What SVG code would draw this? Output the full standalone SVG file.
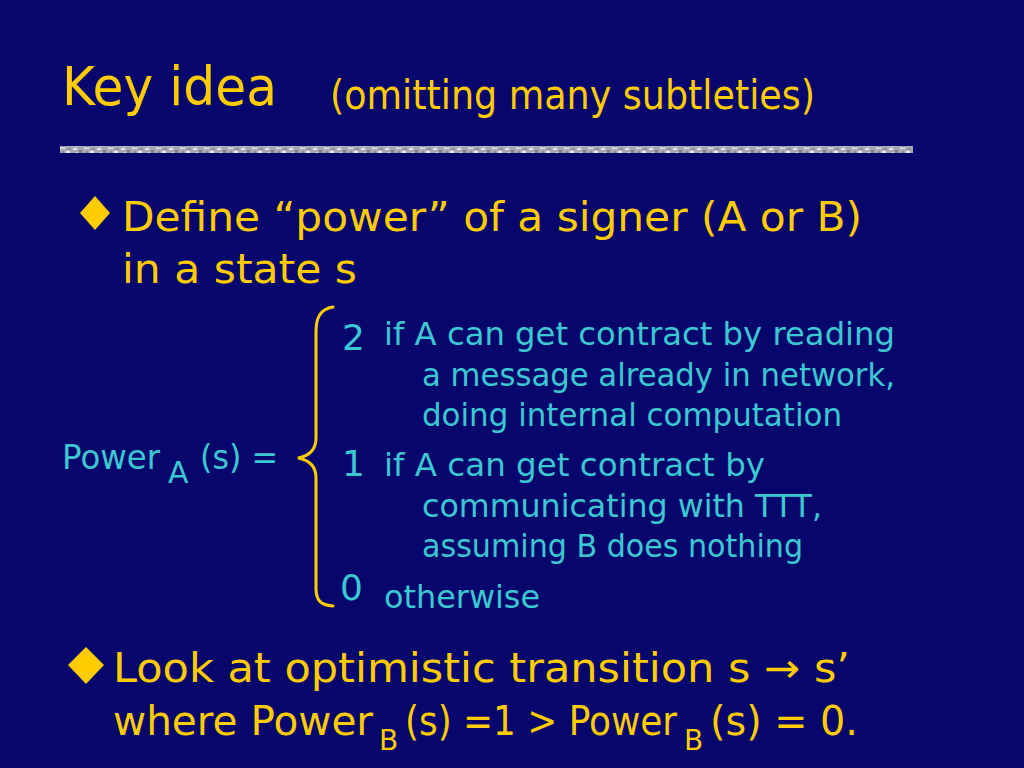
<svg xmlns="http://www.w3.org/2000/svg" width="1024" height="768" viewBox="0 0 1024 768">
  <defs>
    <style>
      text { font-family: "DejaVu Sans", "Open Sans", sans-serif; }
      .yel { fill: #FFCC00; }
      .cy { fill: #3CC8D2; }
      .title { font-size: 54px; }
      .sub { font-size: 40px; }
      .bul { font-size: 40px; }
      .def { font-size: 32px; }
      .num { font-size: 36px; }
    </style>
    <pattern id="grain" x="0" y="0" width="24" height="7" patternUnits="userSpaceOnUse">
      <rect width="24" height="7" fill="#A9A9B4"/>
      <rect x="1" y="1" width="4" height="2" fill="#E4E4EA"/>
      <rect x="7" y="3" width="3" height="3" fill="#7C7C8A"/>
      <rect x="12" y="0" width="5" height="2" fill="#D2D2DA"/>
      <rect x="18" y="4" width="4" height="2" fill="#EDEDF2"/>
      <rect x="14" y="4" width="2" height="3" fill="#8A8A98"/>
      <rect x="3" y="5" width="3" height="2" fill="#C8C8D0"/>
      <rect x="20" y="1" width="3" height="2" fill="#8E8E9C"/>
    </pattern>
  </defs>
  <rect width="1024" height="768" fill="#06066C"/>

  <g id="title">
    <text class="yel title" x="62" y="105" textLength="215" lengthAdjust="spacingAndGlyphs">Key idea</text>
    <text class="yel sub" x="330" y="109" textLength="485" lengthAdjust="spacingAndGlyphs">(omitting many subtleties)</text>
    <rect x="60" y="146" width="853" height="7" fill="url(#grain)"/>
  </g>

  <g id="bullet1">
    <polygon class="yel" points="95,196 110,213 95,230 80,213"/>
    <text class="yel bul" x="122" y="231" textLength="740" lengthAdjust="spacingAndGlyphs">Define “power” of a signer (A or B)</text>
    <text class="yel bul" x="122" y="283" textLength="235" lengthAdjust="spacingAndGlyphs">in a state s</text>
  </g>

  <g id="definition">
    <text class="cy" x="62" y="469" font-size="34" textLength="98" lengthAdjust="spacingAndGlyphs">Power</text>
    <text class="cy" x="168" y="483" font-size="30">A</text>
    <text class="cy" x="200" y="469" font-size="34" textLength="78" lengthAdjust="spacingAndGlyphs">(s) =</text>
    <path d="M333,307 C320,309 316,318 316,332 L316,438 C316,450 309,456 298,458 C309,460 316,466 316,478 L316,588 C316,600 320,605 333,606" fill="none" stroke="#FFCC00" stroke-width="3" stroke-linecap="round"/>
    <text class="cy num" x="342" y="350">2</text>
    <text class="cy def" x="384" y="345" textLength="511" lengthAdjust="spacingAndGlyphs">if A can get contract by reading</text>
    <text class="cy def" x="422" y="386" textLength="473" lengthAdjust="spacingAndGlyphs">a message already in network,</text>
    <text class="cy def" x="422" y="426" textLength="420" lengthAdjust="spacingAndGlyphs">doing internal computation</text>
    <text class="cy num" x="342" y="476">1</text>
    <text class="cy def" x="384" y="476" textLength="381" lengthAdjust="spacingAndGlyphs">if A can get contract by</text>
    <text class="cy def" x="422" y="517" textLength="400" lengthAdjust="spacingAndGlyphs">communicating with TTT,</text>
    <text class="cy def" x="422" y="557" textLength="381" lengthAdjust="spacingAndGlyphs">assuming B does nothing</text>
    <text class="cy num" x="340" y="600">0</text>
    <text class="cy def" x="384" y="608" textLength="156" lengthAdjust="spacingAndGlyphs">otherwise</text>
  </g>

  <g id="bullet2">
    <polygon class="yel" points="86,647 104,665 86,684 68,665"/>
    <text class="yel bul" x="113" y="682" textLength="737" lengthAdjust="spacingAndGlyphs">Look at optimistic transition s → s’</text>
    <text class="yel bul" x="113" y="735" textLength="260" lengthAdjust="spacingAndGlyphs">where Power</text>
    <text class="yel" x="379" y="750" font-size="28">B</text>
    <text class="yel bul" x="405" y="735" textLength="272" lengthAdjust="spacingAndGlyphs">(s) =1 &gt; Power</text>
    <text class="yel" x="684" y="750" font-size="28">B</text>
    <text class="yel bul" x="710" y="735" textLength="148" lengthAdjust="spacingAndGlyphs">(s) = 0.</text>
  </g>
</svg>
